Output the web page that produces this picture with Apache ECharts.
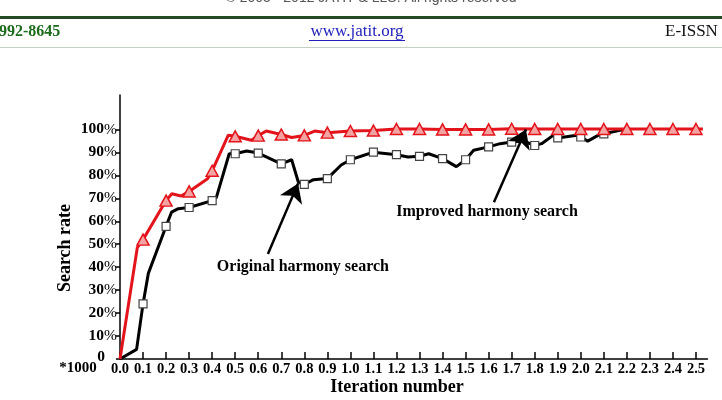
<!DOCTYPE html>
<html><head><meta charset="utf-8">
<script src="https://cdn.jsdelivr.net/npm/echarts@6/dist/echarts.min.js"></script>
<style>html,body{margin:0;padding:0;background:#fff}#c{width:722px;height:400px}</style>
</head><body><div id="c"></div>
<script>
// ---- data ----
const xTickLabels = ['0.0','0.1','0.2','0.3','0.4','0.5','0.6','0.7','0.8','0.9','1.0','1.1','1.2','1.3','1.4','1.5','1.6','1.7','1.8','1.9','2.0','2.1','2.2','2.3','2.4','2.5'];
const yTickValues = [0,10,20,30,40,50,60,70,80,90,100];

// Improved harmony search: value at every marked tick 0.1 … 2.5
const improvedMarkerY = [52,69,73,82,97,97.3,97.8,97.4,98.6,99.3,99.5,100.2,100.2,100,100,100,100.3,100.2,100.2,100.2,100.2,100.2,100.2,100.2,100.2];
// extra bends of the improved line between markers
const improvedBendX = [0,0.075,0.225,0.265,0.38,0.47,0.57,0.635,0.745,0.845,2.53];
const improvedBendY = [0,48.5,72,71,78.5,97.5,95.3,99.3,96.5,99.3,100.2];

// Original harmony search: value at every marked tick 0.1 … 2.1
const originalMarkerY = [24,57.8,66,69,89.4,89.7,85,76.1,78.6,86.8,90.1,89,88.3,87.3,86.8,92.4,94.5,93,96.3,96.7,98.1];
const originalBendX = [0,0.072,0.123,0.224,0.253,0.418,0.474,0.55,0.745,0.774,0.84,0.96,1.25,1.34,1.46,1.535,1.65,1.75,1.83,1.88,1.975,2.03,2.075,2.17,2.2];
const originalBendY = [0,4.2,37.3,64,65.5,70.3,89.4,90.6,86.8,77.1,78.1,84.5,88,89.4,83.8,90.9,93.8,95,93.8,97.4,97.4,94.9,97.4,99.6,100.2];

const annotationText = ['Original harmony search','Improved harmony search'];
const annotationAt = [[0.794,40],[1.593,64]];
const arrowFrom = [[0.642,45.7],[1.623,68.3]];
const arrowTo = [[0.773,76.5],[1.762,100]];

// ---- build ----
const xTickValues = xTickLabels.map(Number);
function markers(ys){ return ys.map((y,i)=>[xTickValues[i+1], y]); }
function line(ys, bx, by){
  const pts = markers(ys).concat(bx.map((x,i)=>[x, by[i]]));
  pts.sort((a,b)=>a[0]-b[0]);
  return pts;
}
const SERIF = 'Liberation Serif';
const chart = echarts.init(document.getElementById('c'), null, {renderer:'canvas'});
chart.setOption({
  animation:false,
  backgroundColor:'#fff',
  grid:{left:120,right:14.5,top:95,bottom:41,containLabel:false,outerBoundsMode:'none'},
  xAxis:{
    type:'value', min:0, max:2.55,
    axisLine:{show:true,lineStyle:{color:'#000',width:1.5}},
    splitLine:{show:false},
    axisTick:{show:true,inside:true,length:7,customValues:xTickValues,lineStyle:{color:'#000',width:1.5}},
    axisLabel:{show:true,margin:3,customValues:xTickValues,
      formatter:v=>{const i=xTickValues.findIndex(t=>Math.abs(t-v)<1e-6);return i<0?'':xTickLabels[i];},
      fontFamily:SERIF,fontWeight:'bold',fontSize:14.5,color:'#000'}
  },
  yAxis:{
    type:'value', min:0, max:115,
    axisLine:{show:true,lineStyle:{color:'#000',width:1.5}},
    splitLine:{show:false},
    axisTick:{show:true,length:4,customValues:yTickValues,lineStyle:{color:'#000',width:1.5}},
    axisLabel:{show:true,margin:3,customValues:yTickValues,
      formatter:v=>v===0?'{z|0}':'{b|'+v+'}{p|%}',
      rich:{
        b:{fontFamily:SERIF,fontWeight:'bold',fontSize:15.5,color:'#000'},
        p:{fontFamily:SERIF,fontWeight:'normal',fontSize:15.5,color:'#000'},
        z:{fontFamily:SERIF,fontWeight:'bold',fontSize:15.5,color:'#000',padding:[0,12,4,0]}
      }}
  },
  series:[
    {type:'line',name:'Original harmony search',data:line(originalMarkerY,originalBendX,originalBendY),
     showSymbol:false,symbol:'none',lineStyle:{color:'#000',width:3},z:2,silent:true,
     markLine:{silent:true,symbol:['none','arrow'],symbolSize:18,label:{show:false},
       lineStyle:{color:'#000',width:2.5,type:'solid'},
       data:arrowFrom.map((f,i)=>[{coord:f},{coord:arrowTo[i]}])},
     markPoint:{silent:true,symbol:'rect',symbolSize:1,itemStyle:{color:'rgba(0,0,0,0)'},
       label:{show:true,position:'inside',formatter:p=>p.name,fontFamily:SERIF,fontWeight:'bold',fontSize:16,color:'#000'},
       data:annotationText.map((t,i)=>({name:t,coord:annotationAt[i]}))}
    },
    {type:'line',name:'Improved harmony search',data:line(improvedMarkerY,improvedBendX,improvedBendY),
     showSymbol:false,symbol:'none',lineStyle:{color:'#e3141b',width:3},z:3,silent:true},
    {type:'scatter',data:markers(originalMarkerY),symbol:'rect',symbolSize:8,z:4,silent:true,
     itemStyle:{color:'#fff',borderColor:'#444',borderWidth:1.2,opacity:1}},
    {type:'scatter',data:markers(improvedMarkerY),symbol:'triangle',symbolSize:[12,11],z:5,silent:true,
     itemStyle:{color:'#f4a3a3',borderColor:'#e3141b',borderWidth:1.5,opacity:1}}
  ],
  graphic:[
    {type:'text',x:371,y:5,style:{text:'\u00a9 2005 - 2012 JATIT & LLS. All rights reserved',font:'14px "Liberation Sans"',fill:'#555',textAlign:'center',textVerticalAlign:'bottom',align:'center',verticalAlign:'bottom'}},
    {type:'rect',shape:{x:0,y:16,width:722,height:3},style:{fill:'#244c24'}},
    {type:'text',x:-1,y:32,style:{text:'992-8645',font:'bold 16px "Liberation Serif"',fill:'#1d6b1d',textVerticalAlign:'middle',verticalAlign:'middle'}},
    {type:'text',x:357,y:32,style:{text:'www.jatit.org',font:'17px "Liberation Serif"',fill:'#2222bb',textAlign:'center',textVerticalAlign:'middle',align:'center',verticalAlign:'middle'}},
    {type:'line',shape:{x1:309,y1:40.5,x2:405,y2:40.5},style:{stroke:'#2222bb',lineWidth:1}},
    {type:'text',x:665,y:32,style:{text:'E-ISSN',font:'17px "Liberation Serif"',fill:'#111',textVerticalAlign:'middle',verticalAlign:'middle'}},
    {type:'line',shape:{x1:0,y1:47.5,x2:722,y2:47.5},style:{stroke:'#c5d0c5',lineWidth:1}},
    {type:'text',x:65,y:248,rotation:Math.PI/2,style:{text:'Search rate',font:'bold 18px "Liberation Serif"',fill:'#000',textAlign:'center',textVerticalAlign:'middle',align:'center',verticalAlign:'middle'}},
    {type:'text',x:397,y:387,style:{text:'Iteration number',font:'bold 18px "Liberation Serif"',fill:'#000',textAlign:'center',textVerticalAlign:'middle',align:'center',verticalAlign:'middle'}},
    {type:'text',x:78,y:368,style:{text:'*1000',font:'bold 15px "Liberation Serif"',fill:'#000',textAlign:'center',textVerticalAlign:'middle',align:'center',verticalAlign:'middle'}}
  ]
});
</script></body></html>
